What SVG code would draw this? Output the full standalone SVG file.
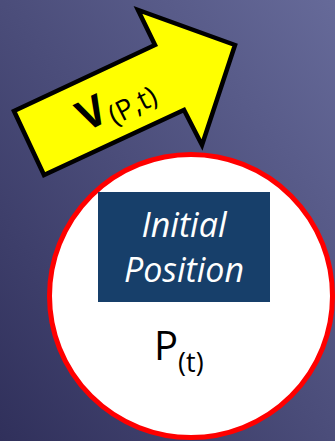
<svg xmlns="http://www.w3.org/2000/svg" width="335" height="441" viewBox="0 0 335 441">
  <defs>
    <linearGradient id="bg" x1="1" y1="0" x2="0" y2="1">
      <stop offset="0" stop-color="#666a99"/>
      <stop offset="1" stop-color="#30305b"/>
    </linearGradient>
    <style>
      .lbl { font-family: "Open Sans", "Liberation Sans", sans-serif; }
    </style>
  </defs>
  <rect x="0" y="0" width="335" height="441" fill="url(#bg)"/>
  <g id="velocity-arrow">
    <polygon points="14,111 155,45 138,10 235,45 202,145 184,110 44,175" fill="#ffff00" stroke="#000000" stroke-width="4.5" stroke-linejoin="miter"/>
    <text class="lbl" transform="translate(86,132) rotate(-27)" fill="#000000"><tspan font-size="42" font-weight="bold">V</tspan><tspan font-size="28" dy="7" dx="1">(P,t)</tspan></text>
  </g>
  <g id="position-circle">
    <circle cx="191" cy="296" r="141.5" fill="#ffffff" stroke="#ff0000" stroke-width="5"/>
    <text class="lbl" x="154" y="360" font-size="40" fill="#000000">P<tspan font-size="27" dy="12">(t)</tspan></text>
  </g>
  <g id="initial-position">
    <rect x="98" y="192" width="172" height="110" fill="#173f6a"/>
    <text class="lbl" x="184" y="237" font-size="34" font-style="italic" fill="#ffffff" text-anchor="middle">Initial</text>
    <text class="lbl" x="184" y="282" font-size="34" font-style="italic" fill="#ffffff" text-anchor="middle">Position</text>
  </g>
</svg>
